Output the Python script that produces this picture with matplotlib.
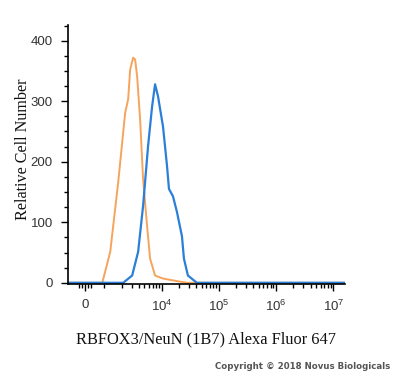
import numpy as np
import matplotlib
matplotlib.use('Agg')
import matplotlib.pyplot as plt
from matplotlib.ticker import FixedLocator, NullFormatter

# Datos (intensidad de fluorescencia, numero relativo de celulas)
iso_x = [-900, 896, 1271, 1751, 2317, 2613, 2831, 3190, 3459, 3750, 4227,
         4764, 5594, 6310, 7709, 10620, 18000, 27750, 1.6e7]
iso_y = [0, 0, 51, 166, 281, 303, 352, 372, 369, 341, 270,
         171, 94, 40, 12, 7, 3, 0, 0]

neun_x = [-900, 2140, 3070, 3900, 4764, 5821, 6839, 7709, 8690, 10620, 12470,
          13490, 15840, 18600, 22730, 24610, 28900, 41400, 1.6e7]
neun_y = [0, 0, 12, 51, 127, 226, 291, 328, 308, 258, 193,
          155, 143, 117, 77, 40, 12, 0, 0]

major_ticks = [0, 1e4, 1e5, 1e6, 1e7]
major_labels = ['0', '$10^4$', '$10^5$', '$10^6$', '$10^7$']

plt.rcParams['mathtext.fontset'] = 'custom'
plt.rcParams['mathtext.rm'] = 'Liberation Sans'
plt.rcParams['mathtext.it'] = 'Liberation Sans'

fig = plt.figure(figsize=(4, 3.78), dpi=100)
ax = fig.add_axes([0.17, 0.2487, 0.6925, 0.6852])

ax.plot(iso_x, iso_y, color='#f5a45c', lw=1.4)
ax.plot(neun_x, neun_y, color='#2a7fd8', lw=1.6)

ax.set_xscale('symlog', linthresh=1000, linscale=0.3)
ax.set_xlim(-900, 1.6e7)
ax.set_ylim(-2, 426)

ax.xaxis.set_major_locator(FixedLocator(major_ticks))
ax.set_xticklabels(major_labels)
minor = [-300, -150, 150, 300, 1000]
for d in [1e3, 1e4, 1e5, 1e6]:
    minor += [k * d for k in range(2, 10)]
ax.xaxis.set_minor_locator(FixedLocator(minor))
ax.xaxis.set_minor_formatter(NullFormatter())

ax.set_yticks([0, 100, 200, 300, 400])
ax.set_yticks(np.arange(25, 426, 25), minor=True)

for s in ['top', 'right']:
    ax.spines[s].set_visible(False)
ax.spines['left'].set_linewidth(1.2)
ax.spines['bottom'].set_linewidth(1.2)

ax.tick_params(which='major', length=5, width=1, direction='out',
               labelsize=9.5, labelcolor='#333333', pad=6)
ax.tick_params(which='minor', length=3, width=1, direction='out')
for lab in ax.get_xticklabels() + ax.get_yticklabels():
    lab.set_family('Liberation Sans')

ax.set_ylabel('Relative Cell Number', family='Liberation Serif', fontsize=11.6,
              color='#111111')
ax.yaxis.set_label_coords(-0.135, 0.52)
ax.set_xlabel('RBFOX3/NeuN (1B7) Alexa Fluor 647', family='Liberation Serif',
              fontsize=11.8, labelpad=12, color='#111111')

fig.text(0.975, 0.03, 'Copyright \u00a9 2018 Novus Biologicals', ha='right',
         va='center', fontsize=6.2, fontweight='bold', color='#555555')

fig.savefig('out.png', dpi=100)
